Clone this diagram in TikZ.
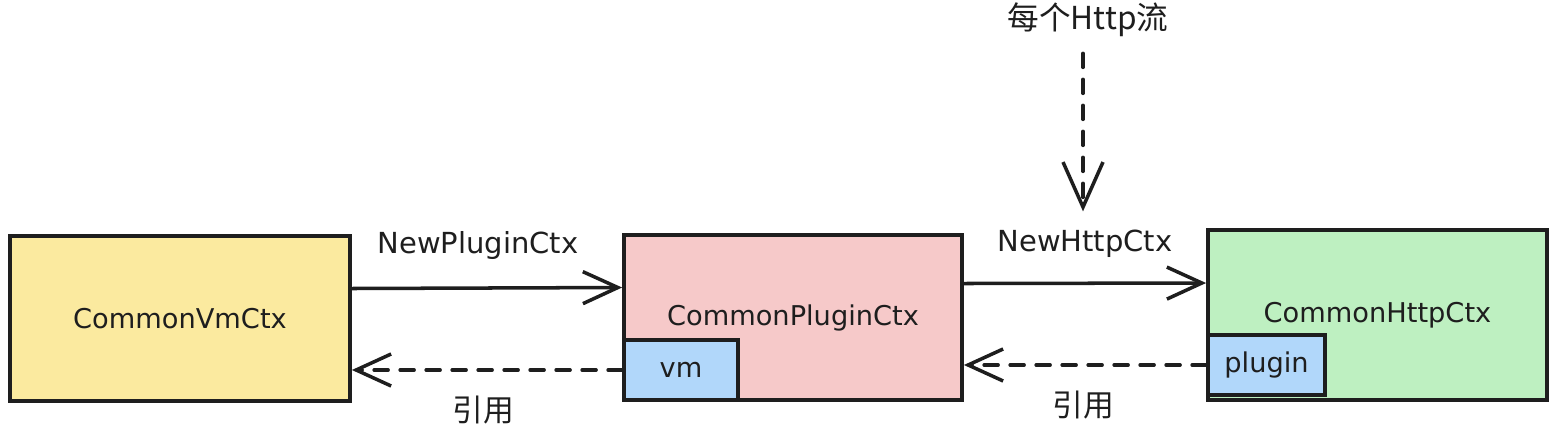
\documentclass[tikz,border=0pt]{standalone}
\usepackage{fontspec}
\setmainfont{DejaVu Sans}
\newfontfamily\cjk{Noto Sans CJK SC}
\usetikzlibrary{arrows.meta,positioning}

\definecolor{inkc}{HTML}{1E1E1E}
\definecolor{vmfill}{HTML}{FBEA9F}
\definecolor{plugfill}{HTML}{F6C9C9}
\definecolor{httpfill}{HTML}{BEF0C1}
\definecolor{subfill}{HTML}{B1D7FA}

\begin{document}
\begin{tikzpicture}[
  x=0.02cm, y=-0.02cm,
  font=\fontsize{15.5}{18}\selectfont, text=inkc,
  ctx/.style={draw=inkc, line width=2.2pt, minimum height=3.3cm, inner sep=0pt},
  sub/.style={draw=inkc, line width=2.2pt, fill=subfill, anchor=south west, minimum height=1.2cm, inner sep=0pt},
  arr/.style={-{Straight Barb[length=7mm, width=6.4mm, line width=2pt]}, draw=inkc, line width=2pt, line cap=round},
  dasharr/.style={arr, dash pattern=on 2.8mm off 2.4mm},
  lbl/.style={inner sep=2pt, font=\fontsize{16.5}{19}\selectfont}
]
\useasboundingbox (0,0) rectangle (1556,430);
\node[ctx, fill=vmfill, minimum width=6.8cm] (vmctx) at (180,318.5) {CommonVmCtx};
\node[ctx, fill=plugfill, minimum width=6.76cm] (pluginctx) at (793,317.5) {CommonPluginCtx};
\node[ctx, fill=httpfill, minimum width=6.78cm, minimum height=3.4cm] (httpctx) at (1377.5,315) {\raisebox{0.1cm}{CommonHttpCtx}};
\node[sub, minimum width=2.28cm] (vm) at (pluginctx.south west) {vm};
\node[sub, minimum width=2.34cm] (plugin) at ([yshift=0.1cm]httpctx.south west) {plugin};
% labels
\node[lbl] (newplugin) at (478,245) {NewPluginCtx};
\node[lbl] (newhttp) at (1085,244) {NewHttpCtx};
\node[lbl, font=\fontsize{17.5}{20}\selectfont] (ref1) at (483,410) {\cjk 引用};
\node[lbl, font=\fontsize{17.5}{20}\selectfont] (ref2) at (1083,405) {\cjk 引用};
\node[lbl, font=\fontsize{18}{21}\selectfont] (flow) at (1088,20) {\cjk 每个Http流};
% connectors
\draw[arr] ([yshift=0.6cm]vmctx.east) -- ([yshift=0.6cm]pluginctx.west);
\draw[arr] ([yshift=0.68cm]pluginctx.east) -- ([yshift=0.64cm]httpctx.west);
\draw[dasharr] (vm.west) -- (vm.west -| vmctx.east);
\draw[dasharr] (plugin.west) -- (plugin.west -| pluginctx.east);
\draw[dasharr, -{Straight Barb[length=9mm, width=8mm, line width=2pt]}] ([yshift=-0.25cm]flow.south -| 1083,0) -- ([yshift=0.3cm]newhttp.north -| 1083,0);
\end{tikzpicture}
\end{document}
